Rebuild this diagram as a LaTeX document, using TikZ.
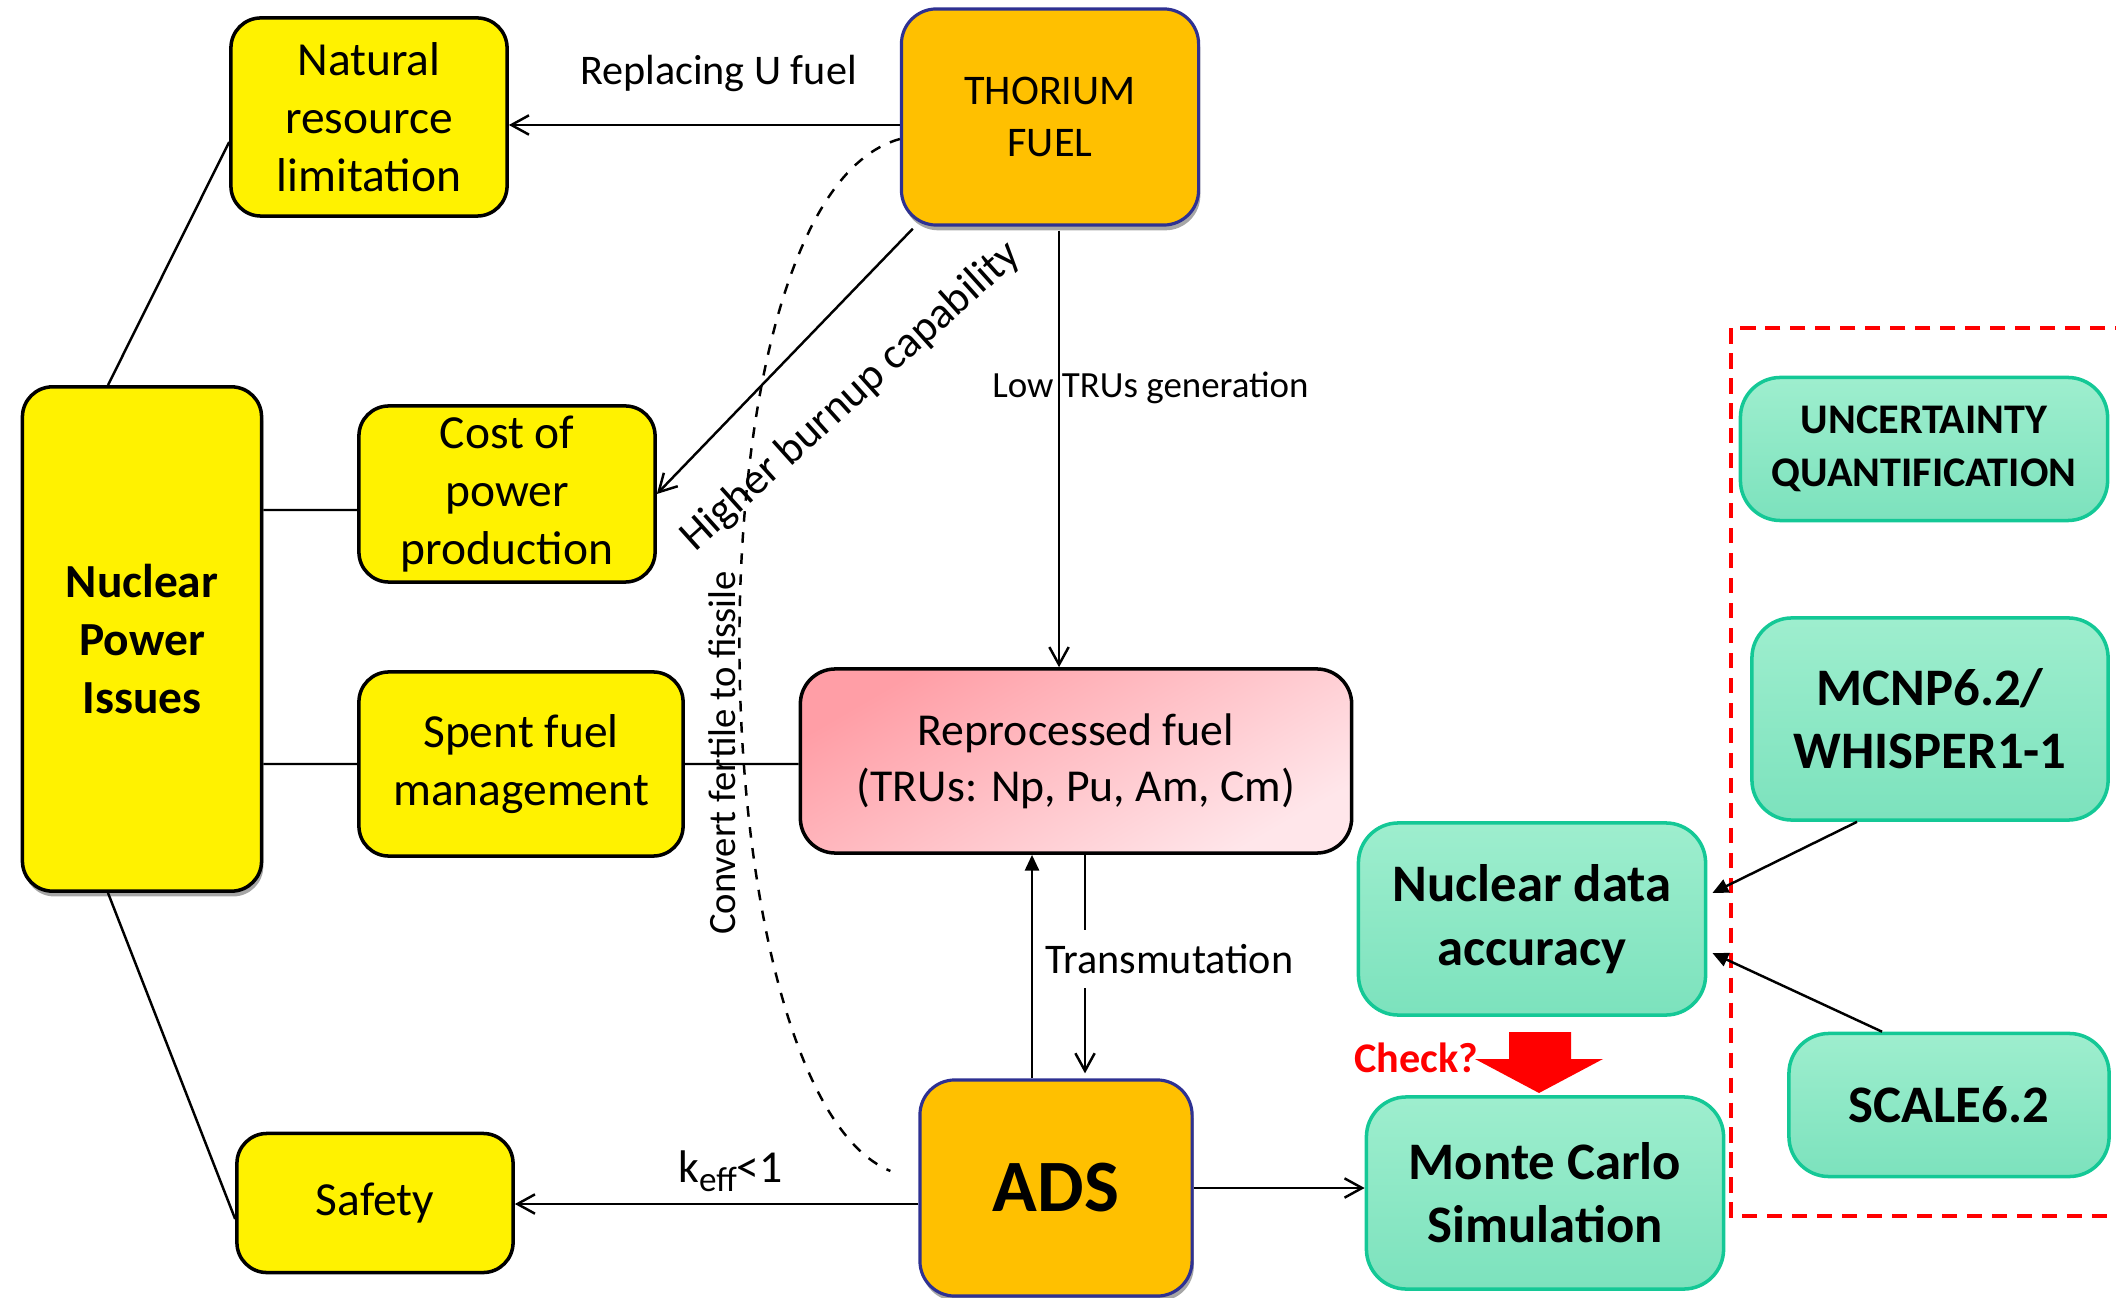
\documentclass[tikz,border=0pt]{standalone}
\usepackage{fontspec}
\setmainfont{Carlito}
\usetikzlibrary{arrows.meta, calc, shadows}
\definecolor{fuelorange}{RGB}{255,192,0}
\definecolor{fuelnavy}{RGB}{46,49,146}
\definecolor{mintlight}{RGB}{158,238,206}
\definecolor{mintdark}{RGB}{124,226,189}
\definecolor{mintline}{RGB}{20,200,150}
\definecolor{pinkdark}{RGB}{255,158,166}
\definecolor{pinklight}{RGB}{255,230,234}
\tikzset {
    >={Straight Barb[length=5pt, width=5.5pt]},
    issue/.style={draw, line width=1pt, fill=yellow, rounded corners=0.3cm, align=center, inner sep=0pt, font=\fontsize{13.5}{16.5}\selectfont},
    lifted/.style={drop shadow={shadow xshift=0.5pt, shadow yshift=-1.5pt, fill=black!35, opacity=1}},
    fuel/.style={draw=fuelnavy, line width=0.9pt, fill=fuelorange, rounded corners=0.35cm, align=center, inner sep=0pt, lifted},
    tool/.style={draw=mintline, line width=1pt, top color=mintlight, bottom color=mintdark, rounded corners=0.4cm, align=center, inner sep=0pt, font=\bfseries\fontsize{15}{18}\selectfont},
    lbl/.style={inner sep=0pt, font=\fontsize{12}{14}\selectfont},
    link/.style={line width=0.7pt},
    solidtip/.style={-{Triangle[length=4.5pt, width=4pt]}}
}
\begin{document}
\begin{tikzpicture}[x=0.01cm, y=-0.01cm]
                            \useasboundingbox (0,0) rectangle (2116,1298);

                            \node[issue, minimum width=2.76cm, minimum height=1.98cm] (natural) at (369,117) {Natural\\resource\\limitation};
                            \node[fuel, minimum width=2.97cm, minimum height=2.16cm, font=\fontsize{12}{14.6}\selectfont] (thorium) at (1050,117) {THORIUM\\FUEL};
                            \node[issue, lifted, minimum width=2.39cm, minimum height=5.04cm, font=\bfseries\fontsize{13.5}{16.5}\selectfont] (npi) at (142,639) {Nuclear\\Power\\Issues};
                            \node[issue, minimum width=2.96cm, minimum height=1.76cm] (cost) at (507,494) {Cost of\\power\\production};
                            \node[issue, minimum width=3.24cm, minimum height=1.84cm] (spent) at (521,764) {Spent fuel\\management};
                            \node[issue, minimum width=2.76cm, minimum height=1.39cm] (safety) at (375,1203) {Safety};
                            \node[draw, line width=1pt, rounded corners=0.35cm, top color=pinkdark, bottom color=pinklight, shading angle=30, align=center, inner sep=0pt, minimum width=5.51cm, minimum height=1.84cm, font=\fontsize{13}{16}\selectfont] (reproc) at (1076,761) {Reprocessed fuel\\(TRUs: Np, Pu, Am, Cm)};
                            \node[fuel, minimum width=2.72cm, minimum height=2.16cm, font=\bfseries\fontsize{21}{24}\selectfont] (ads) at (1056,1188) {ADS};
                            \node[tool, minimum width=3.47cm, minimum height=1.92cm] (nucdata) at (1532,919) {Nuclear data\\accuracy};
                            \node[tool, minimum width=3.57cm, minimum height=1.92cm] (monte) at (1545,1193) {Monte Carlo\\Simulation};
                            \node[tool, minimum width=3.67cm, minimum height=1.43cm, font=\bfseries\fontsize{12}{15}\selectfont] (uq) at (1924,449) {UNCERTAINTY\\QUANTIFICATION};
                            \node[tool, minimum width=3.56cm, minimum height=2.02cm] (mcnp) at (1930,719) {MCNP6.2/\\WHISPER1-1};
                            \node[tool, minimum width=3.20cm, minimum height=1.43cm] (scale) at (1949,1105) {SCALE6.2};

                            \draw[red, line width=0.9pt, dash pattern=on 4.3pt off 2.8pt] (2130,328) -- (1731,328) -- (1731,1216) -- (2130,1216);

                            \draw[link]
                            ($(npi.north)+(-34,0)$) -- ($(natural.west)+(0,25)$)
                            ($(npi.east)+(0,-129)$) -- ($(cost.west)+(0,16)$)
                            (spent.west -| npi.east) -- (spent.west)
                            ($(npi.south)+(-34,0)$) -- ($(safety.west)+(0,16)$)
                            (spent.east) -- (spent.east -| reproc.west);

                            \draw[link, ->] ($(thorium.west)+(0,8)$) -- ($(natural.east)+(0,8)$)
                                node[lbl, midway, above=9pt, xshift=4pt] (replacing) {Replacing U fuel};
                            \draw[link, ->] ($(thorium.south west)+(13,2)$) -- (cost.east);
                            \node[lbl, rotate=42, font=\fontsize{12.5}{14}\selectfont] (burnup) at (851,397) {Higher burnup capability};
                            \draw[link, ->] ($(thorium.south)+(9,4)$) coordinate (tdown) -- (tdown |- reproc.north)
                                node[pos=0.36, xshift=26pt, font=\fontsize{10.5}{12}\selectfont] (lowtru) {Low TRUs generation};
                            \draw[link, solidtip] ($(ads.north)+(-24,0)$) coordinate (aup) -- (aup |- reproc.south);
                            \draw[link, ->] ($(reproc.south)+(9,0)$) coordinate (rdown) -- ($(rdown |- ads.north)+(0,-5)$)
                                node[lbl, pos=0.476, xshift=24pt, fill=white, inner ysep=4pt] (transm) {Transmutation};
                            \draw[link, ->] ($(ads.west)+(0,16)$) -- ($(safety.east)+(0,1)$)
                                node[lbl, midway, above=3pt, xshift=4pt, font=\fontsize{13}{15}\selectfont] (keff) {k\raisebox{-0.45ex}{\fontsize{10}{12}\selectfont eff}<1};
                            \draw[link, ->] (ads.east) -- (ads.east -| monte.west);
                            \draw[link, solidtip] ($(mcnp.south)+(-73,0)$) -- ($(nucdata.east)+(5,-26)$);
                            \draw[link, solidtip] ($(scale.north)+(-67,0)$) -- ($(nucdata.east)+(5,34)$);

                            \draw[link, dashed] ($(thorium.west)+(0,22)$) .. controls (680,200) and (695,1090) .. ($(ads.west)+(-28,-17)$);
                            \node[lbl, rotate=90, font=\fontsize{11}{13}\selectfont] (convert) at (722,753) {Convert fertile to fissile};

                            \node[font=\bfseries\fontsize{12}{14}\selectfont, text=red, inner sep=0pt] (check) at (1416,1058) {Check?};
                            \fill[red] (1509,1032) -- (1571,1032) -- (1571,1059) -- (1603,1059) -- (1539,1093) -- (1475,1059) -- (1509,1059) -- cycle;
                        \end{tikzpicture}
\end{document}
